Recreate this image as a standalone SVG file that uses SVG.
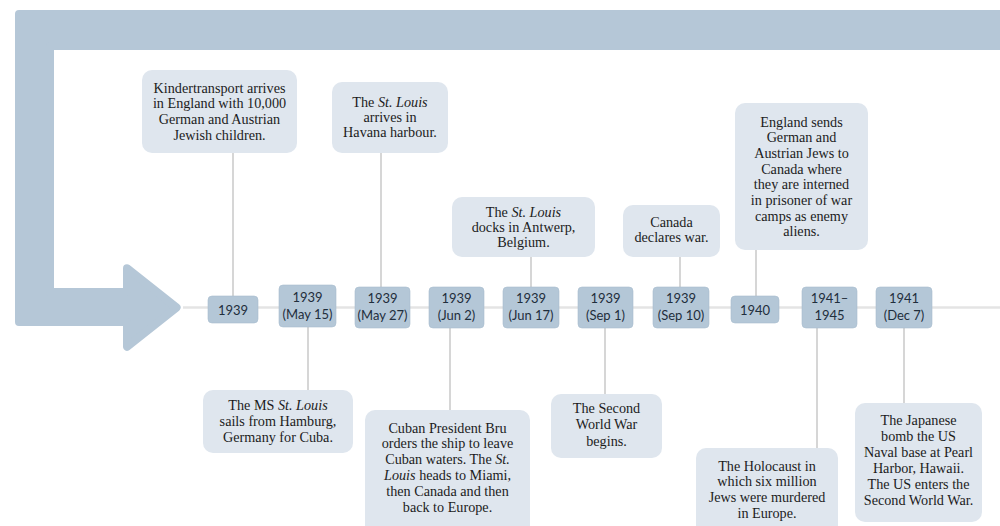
<svg xmlns="http://www.w3.org/2000/svg" width="1000" height="526" viewBox="0 0 1000 526">
<style>
.bg{fill:#ffffff}
.arrow{fill:#b5c7d7;stroke:#b5c7d7;stroke-width:8;stroke-linejoin:round}
.date rect{fill:#b4c7d7;stroke:#aabdce;stroke-width:0.6}
.date text{font-family:Lato,"Open Sans","DejaVu Sans",sans-serif;font-size:13px;fill:#1f2e3c;text-anchor:middle}
.ev rect{fill:#dfe6ee}
.ev text{font-family:"Liberation Serif","Times New Roman",serif;font-size:14.2px;fill:#1c1c1c;text-anchor:middle}
.ev tspan.i{font-style:italic}
.conn line{stroke:#c9c9c9;stroke-width:1.5}
.conn line.tl{stroke:#e4e4e4;stroke-width:2.5}
</style>
<rect class="bg" x="0" y="0" width="1000" height="526"/>
<path id="arrow" class="arrow" d="M19,14 L1004,14 L1004,46 L50,46 L50,292 L127,292 L127,268.2 L176.6,307.5 L127,346.8 L127,322 L19,322 Z"/>
<g id="connectors" class="conn">
<line class="tl" x1="183" y1="307.5" x2="1000" y2="307.5"/>
<line x1="233" y1="153" x2="233" y2="296"/>
<line x1="381" y1="153" x2="381" y2="287"/>
<line x1="531" y1="257" x2="531" y2="287"/>
<line x1="680" y1="257" x2="680" y2="287"/>
<line x1="756" y1="250" x2="756" y2="296"/>
<line x1="308" y1="327" x2="308" y2="390"/>
<line x1="450" y1="328" x2="450" y2="410"/>
<line x1="605" y1="328" x2="605" y2="394"/>
<line x1="817" y1="328" x2="817" y2="448"/>
<line x1="904" y1="328" x2="904" y2="403"/>
</g>
<g id="d1" class="date"><rect x="208" y="296" width="50" height="27" rx="4"/><text x="233" y="314.5">1939</text></g>
<g id="d2" class="date"><rect x="279" y="285" width="57" height="42" rx="4"/><text x="307.5" y="301.5">1939</text><text x="307.5" y="318.5">(May 15)</text></g>
<g id="d3" class="date"><rect x="355" y="287" width="55" height="41" rx="4"/><text x="382.5" y="302.5">1939</text><text x="382.5" y="319.5">(May 27)</text></g>
<g id="d4" class="date"><rect x="429" y="287" width="55" height="41" rx="4"/><text x="456.5" y="302.5">1939</text><text x="456.5" y="319.5">(Jun 2)</text></g>
<g id="d5" class="date"><rect x="503" y="287" width="56" height="41" rx="4"/><text x="531" y="302.5">1939</text><text x="531" y="319.5">(Jun 17)</text></g>
<g id="d6" class="date"><rect x="578" y="287" width="55" height="41" rx="4"/><text x="605.5" y="302.5">1939</text><text x="605.5" y="319.5">(Sep 1)</text></g>
<g id="d7" class="date"><rect x="653" y="287" width="56" height="41" rx="4"/><text x="681" y="302.5">1939</text><text x="681" y="319.5">(Sep 10)</text></g>
<g id="d8" class="date"><rect x="731" y="296" width="48" height="27" rx="4"/><text x="755" y="314.5">1940</text></g>
<g id="d9" class="date"><rect x="802" y="287" width="55" height="41" rx="4"/><text x="829.5" y="302.5">1941–</text><text x="829.5" y="319.5">1945</text></g>
<g id="d10" class="date"><rect x="876" y="287" width="56" height="41" rx="4"/><text x="904" y="302.5">1941</text><text x="904" y="319.5">(Dec 7)</text></g>
<g id="e1" class="ev"><rect x="142" y="70" width="155" height="83" rx="10"/>
<text x="219.5" y="92.5">Kindertransport arrives</text>
<text x="219.5" y="108.3">in England with 10,000</text>
<text x="219.5" y="124.1">German and Austrian</text>
<text x="219.5" y="139.9">Jewish children.</text></g>
<g id="e2" class="ev"><rect x="332" y="82" width="116" height="71" rx="10"/>
<text x="390" y="107">The <tspan class="i">St. Louis</tspan></text>
<text x="390" y="122">arrives in</text>
<text x="390" y="137">Havana harbour.</text></g>
<g id="e3" class="ev"><rect x="452" y="197" width="143" height="60" rx="10"/>
<text x="523.5" y="216.5">The <tspan class="i">St. Louis</tspan></text>
<text x="523.5" y="231.5">docks in Antwerp,</text>
<text x="523.5" y="246.5">Belgium.</text></g>
<g id="e4" class="ev"><rect x="623" y="205" width="97" height="52" rx="10"/>
<text x="671.5" y="226.5">Canada</text>
<text x="671.5" y="241.5">declares war.</text></g>
<g id="e5" class="ev"><rect x="735" y="103" width="133" height="147" rx="10"/>
<text x="801.5" y="126.5">England sends</text>
<text x="801.5" y="142.2">German and</text>
<text x="801.5" y="157.9">Austrian Jews to</text>
<text x="801.5" y="173.6">Canada where</text>
<text x="801.5" y="189.3">they are interned</text>
<text x="801.5" y="205">in prisoner of war</text>
<text x="801.5" y="220.7">camps as enemy</text>
<text x="801.5" y="236.4">aliens.</text></g>
<g id="e6" class="ev"><rect x="203" y="390" width="150" height="63" rx="10"/>
<text x="278" y="409.5">The MS <tspan class="i">St. Louis</tspan></text>
<text x="278" y="425.5">sails from Hamburg,</text>
<text x="278" y="441.5">Germany for Cuba.</text></g>
<g id="e7" class="ev"><rect x="365" y="410" width="165" height="130" rx="10"/>
<text x="447.5" y="432.5">Cuban President Bru</text>
<text x="447.5" y="448.3">orders the ship to leave</text>
<text x="447.5" y="464.1">Cuban waters. The <tspan class="i">St.</tspan></text>
<text x="447.5" y="479.9"><tspan class="i">Louis</tspan> heads to Miami,</text>
<text x="447.5" y="495.7">then Canada and then</text>
<text x="447.5" y="511.5">back to Europe.</text></g>
<g id="e8" class="ev"><rect x="551" y="394" width="111" height="64" rx="10"/>
<text x="606.5" y="412.5">The Second</text>
<text x="606.5" y="429">World War</text>
<text x="606.5" y="445.5">begins.</text></g>
<g id="e9" class="ev"><rect x="696" y="448" width="142" height="92" rx="10"/>
<text x="767" y="470.5">The Holocaust in</text>
<text x="767" y="486.2">which six million</text>
<text x="767" y="501.9">Jews were murdered</text>
<text x="767" y="517.6">in Europe.</text></g>
<g id="e10" class="ev"><rect x="855" y="403" width="127" height="119" rx="10"/>
<text x="918.5" y="424.5">The Japanese</text>
<text x="918.5" y="440.5">bomb the US</text>
<text x="918.5" y="456.5">Naval base at Pearl</text>
<text x="918.5" y="472.5">Harbor, Hawaii.</text>
<text x="918.5" y="488.5">The US enters the</text>
<text x="918.5" y="504.5">Second World War.</text></g>
</svg>
